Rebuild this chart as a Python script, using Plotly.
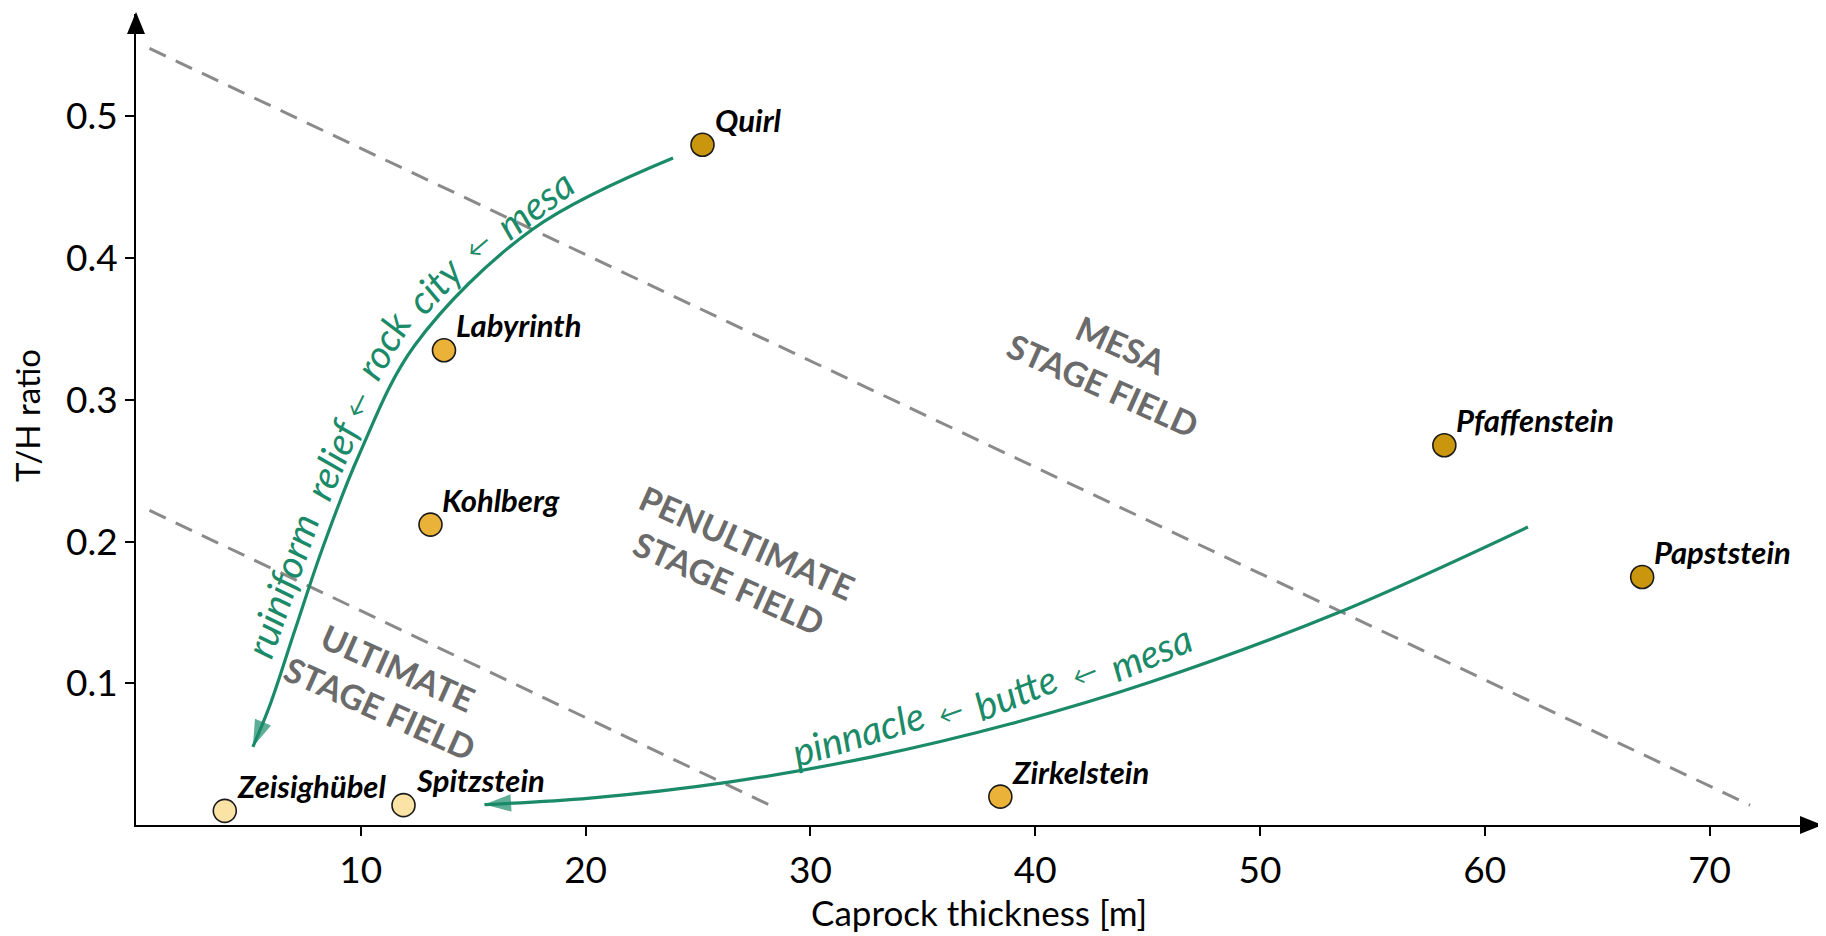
import plotly.graph_objects as go

# ---------------- data ----------------
names = ["Quirl", "Labyrinth", "Kohlberg", "Pfaffenstein", "Papststein",
         "Zirkelstein", "Zeisighübel", "Spitzstein"]
caprock = [25.2, 13.7, 13.1, 58.2, 67.0, 38.45, 3.95, 11.9]
th_ratio = [0.480, 0.335, 0.212, 0.268, 0.175, 0.020, 0.010, 0.014]
stage = ["mesa", "penultimate", "penultimate", "mesa", "mesa",
         "penultimate", "ultimate", "ultimate"]

x_ticks = [10, 20, 30, 40, 50, 60, 70]
y_ticks = [0.1, 0.2, 0.3, 0.4, 0.5]

# stage-field boundaries (dashed)
upper_x = [0.6, 71.8]
upper_y = [0.548, 0.014]
lower_x = [0.6, 28.2]
lower_y = [0.222, 0.014]

# evolution paths (green arrows)
path1_x = [23.89, 17.66, 12.41, 9.92, 8.27, 7.07, 5.96, 5.20]
path1_y = [0.4707, 0.4206, 0.3387, 0.2611, 0.1941, 0.1376, 0.0847, 0.0552]
path2_x = [61.92, 53.41, 45.13, 38.91, 32.68, 26.29, 20.20, 15.50]
path2_y = [0.2103, 0.1494, 0.1009, 0.0714, 0.0479, 0.0301, 0.0190, 0.0144]

# text along the paths: (text, x, y, angle)
path1_text = [("ruiniform", 6.45, 0.1690, -71), ("relief", 8.70, 0.2585, -67),
              ("←", 9.83, 0.2971, -64), ("rock", 10.95, 0.3390, -60),
              ("city", 13.30, 0.3815, -47), ("←", 15.21, 0.4093, -40),
              ("mesa", 17.72, 0.4385, -37)]
path2_text = [("pinnacle", 32.13, 0.0650, -17), ("←", 36.21, 0.0797, -20),
              ("butte", 39.12, 0.0941, -22), ("←", 42.21, 0.1070, -22),
              ("mesa", 45.15, 0.1223, -23)]

# field labels: (text, x, y, angle)
field_labels = [("MESA<br>STAGE FIELD", 43.42, 0.3250, 24),
                ("PENULTIMATE<br>STAGE FIELD", 26.80, 0.1850, 24),
                ("ULTIMATE<br>STAGE FIELD", 11.25, 0.0970, 24)]

stage_colors = {"mesa": "#C9960E", "penultimate": "#EBB23A", "ultimate": "#FBE3A6"}

GREEN = "#1A8A68"
GRAY_TXT = "#6B6B6B"
DASH = "#8A8A8A"
FONT = "Lato"

# page geometry (the browser body has an 8 px margin)
BODY = 8
PAGE_W, PAGE_H = 1826, 936
PLOT_L, PLOT_R, PLOT_T, PLOT_B = 136, 1822, 14, 825   # plot area in page pixels
W, H = PAGE_W - BODY, PAGE_H - BODY
ML, MR, MT, MB = PLOT_L - BODY, PAGE_W - PLOT_R, PLOT_T - BODY, PAGE_H - PLOT_B
X_RANGE = [0, 75]
Y_RANGE = [0, 0.5723]

fig = go.Figure()

# dashed boundaries
for bx, by in [(upper_x, upper_y), (lower_x, lower_y)]:
    fig.add_trace(go.Scatter(x=bx, y=by, mode="lines",
                             line=dict(color=DASH, width=3, dash="18px,11px"),
                             hoverinfo="skip", showlegend=False))

# green evolution paths with arrowheads
for px, py in [(path1_x, path1_y), (path2_x, path2_y)]:
    fig.add_trace(go.Scatter(
        x=px, y=py, mode="lines+markers",
        line=dict(color=GREEN, width=3.2, shape="spline", smoothing=1.0),
        marker=dict(symbol="arrow", angleref="previous",
                    size=[0] * (len(px) - 1) + [28], color=GREEN,
                    line=dict(width=0)),
        hoverinfo="skip", showlegend=False, cliponaxis=False))

# points
fig.add_trace(go.Scatter(
    x=caprock, y=th_ratio, mode="markers",
    marker=dict(size=23, color=[stage_colors[s] for s in stage],
                line=dict(color="#1a1a1a", width=1.6)),
    text=names, hoverinfo="text", showlegend=False, cliponaxis=False))

annotations = []
for n, xv, yv in zip(names, caprock, th_ratio):
    annotations.append(dict(x=xv, y=yv, text=n, showarrow=False,
                            xanchor="left", yanchor="middle", xshift=10, yshift=25,
                            font=dict(family=FONT, size=31, color="black",
                                      weight="bold", style="italic")))

for t, xv, yv, ang in path1_text + path2_text:
    small = t == "←"
    annotations.append(dict(x=xv, y=yv, text=t, showarrow=False, textangle=ang,
                            xanchor="center", yanchor="middle",
                            font=dict(family=FONT, size=25 if small else 39,
                                      color=GREEN, style="italic")))

for t, xv, yv, ang in field_labels:
    annotations.append(dict(x=xv, y=yv, text=t, showarrow=False, textangle=ang,
                            xanchor="center", yanchor="middle", align="center",
                            font=dict(family=FONT, size=34, color=GRAY_TXT,
                                      weight="bold")))

plot_w = PLOT_R - PLOT_L
plot_h = PLOT_B - PLOT_T


def px2paper(px, py):
    return (px - PLOT_L) / plot_w, (PLOT_B - py) / plot_h


# axis titles
tx, ty = px2paper(27, 416)
annotations.append(dict(xref="paper", yref="paper", x=tx, y=ty, text="T/H ratio",
                        textangle=-90, showarrow=False, xanchor="center",
                        yanchor="middle",
                        font=dict(family=FONT, size=33, color="black")))
tx, ty = px2paper(979, 912)
annotations.append(dict(xref="paper", yref="paper", x=tx, y=ty,
                        text="Caprock thickness [m]", showarrow=False,
                        xanchor="center", yanchor="middle",
                        font=dict(family=FONT, size=35, color="black")))

# axis arrowheads (paper-referenced triangles)
shapes = []
a1 = px2paper(PLOT_L, PLOT_T - 2)
a2 = px2paper(PLOT_L - 9, PLOT_T + 20)
a3 = px2paper(PLOT_L + 9, PLOT_T + 20)
shapes.append(dict(type="path", xref="paper", yref="paper",
                   path=f"M {a1[0]} {a1[1]} L {a2[0]} {a2[1]} L {a3[0]} {a3[1]} Z",
                   fillcolor="black", line=dict(width=0)))
b1 = px2paper(PLOT_R, PLOT_B)
b2 = px2paper(PLOT_R - 22, PLOT_B - 9)
b3 = px2paper(PLOT_R - 22, PLOT_B + 9)
shapes.append(dict(type="path", xref="paper", yref="paper",
                   path=f"M {b1[0]} {b1[1]} L {b2[0]} {b2[1]} L {b3[0]} {b3[1]} Z",
                   fillcolor="black", line=dict(width=0)))

fig.update_layout(
    width=W, height=H,
    margin=dict(l=ML, r=MR, t=MT, b=MB, pad=0),
    paper_bgcolor="white", plot_bgcolor="white",
    annotations=annotations, shapes=shapes,
    font=dict(family=FONT, color="black"),
    xaxis=dict(range=X_RANGE, tickvals=x_ticks, ticktext=[str(v) for v in x_ticks],
               showline=True, linecolor="black", linewidth=2, ticks="outside",
               ticklen=9, tickwidth=1.5, tickcolor="black", showgrid=False,
               zeroline=False, tickfont=dict(family=FONT, size=37, color="black"),
               ticklabelstandoff=3),
    yaxis=dict(range=Y_RANGE, tickvals=y_ticks, ticktext=[f"{v:.1f}" for v in y_ticks],
               showline=True, linecolor="black", linewidth=2, ticks="outside",
               ticklen=9, tickwidth=1.5, tickcolor="black", showgrid=False,
               zeroline=False, tickfont=dict(family=FONT, size=37, color="black"),
               ticklabelstandoff=0),
)

fig.write_html("out.html")
